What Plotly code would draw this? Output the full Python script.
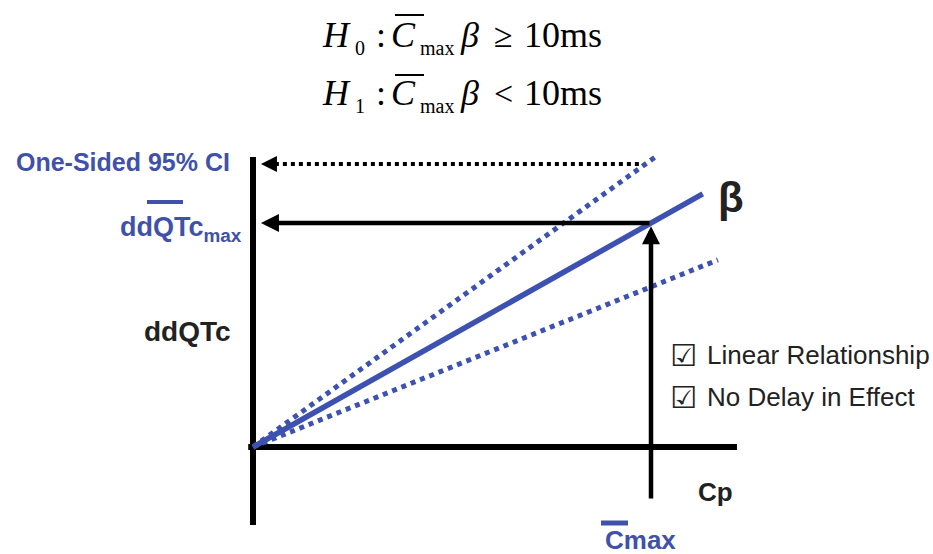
import plotly.graph_objects as go

W, H = 933, 554

# ---------------- data (conceptual units: Cmax = 1, ddQTc_max = 1) ----------------
c_max = 1.0
ddqtc_max = 1.0
ci_upper = 1.263
line_names = ["upper 95% CI", "beta", "lower 95% CI"]
slopes = [1.281, 1.0, 0.715]
line_end_cp = [1.018, 1.13, 1.168]
line_dash = ["dot", "solid", "dot"]
y_axis_extent = [-0.348, 1.295]
x_axis_extent = [-0.012, 1.216]
cmax_drop_bottom = -0.237
arrow_tip_x = 0.02

legend_items = ["Linear Relationship", "No Delay in Effect"]
hyp_labels = ["0", "1"]
hyp_ops = ["≥", "<"]

BLUE = "#3d52b0"
TBLUE = "#3f51a8"
BLACK = "#000000"
TXT = "#222222"

# ---------------- axis mapping (layout) ----------------
ox, oy = 253, 447
sx, sy = 398, 224
xr = [-ox / sx, (W - ox) / sx]
yr = [-(H - oy) / sy, oy / sy]

fig = go.Figure()

# axes lines
fig.add_trace(go.Scatter(x=[0, 0], y=y_axis_extent, mode="lines",
                         line=dict(color=BLACK, width=6), hoverinfo="skip"))
fig.add_trace(go.Scatter(x=x_axis_extent, y=[0, 0], mode="lines",
                         line=dict(color=BLACK, width=6), hoverinfo="skip"))

# regression lines
for name, s, xe, d in zip(line_names, slopes, line_end_cp, line_dash):
    fig.add_trace(go.Scatter(x=[0, xe], y=[0, s * xe], mode="lines", name=name,
                             line=dict(color=BLUE, width=5.5 if d == "solid" else 5, dash=d),
                             hoverinfo="skip"))

# dotted CI arrow line
fig.add_trace(go.Scatter(x=[arrow_tip_x + 0.035, 0.972 * c_max], y=[ci_upper, ci_upper],
                         mode="lines", line=dict(color=BLACK, width=4, dash="dot"),
                         hoverinfo="skip"))

ann = []
# arrows
ann.append(dict(x=arrow_tip_x, y=ci_upper, ax=arrow_tip_x + 0.04, ay=ci_upper,
                xref="x", yref="y", axref="x", ayref="y", text="", showarrow=True,
                arrowhead=2, arrowsize=0.8, arrowwidth=4, arrowcolor=BLACK, standoff=0))
ann.append(dict(x=arrow_tip_x, y=ddqtc_max, ax=c_max, ay=ddqtc_max,
                xref="x", yref="y", axref="x", ayref="y", text="", showarrow=True,
                arrowhead=2, arrowsize=0.8, arrowwidth=4.5, arrowcolor=BLACK, standoff=0))
ann.append(dict(x=c_max, y=ddqtc_max - 0.015, ax=c_max, ay=cmax_drop_bottom,
                xref="x", yref="y", axref="x", ayref="y", text="", showarrow=True,
                arrowhead=2, arrowsize=0.8, arrowwidth=4.5, arrowcolor=BLACK, standoff=0))


def px(x):
    return x / W


def py(y):
    return 1 - y / H


def label(text, x, y, size, color, xanchor="left", bold=False,
          family="Liberation Sans, Arial, DejaVu Sans", yanchor="middle"):
    t = f"<b>{text}</b>" if bold else text
    ann.append(dict(x=px(x), y=py(y), xref="paper", yref="paper", text=t, showarrow=False,
                    xanchor=xanchor, yanchor=yanchor,
                    font=dict(size=size, color=color, family=family)))


# hypotheses formula (pieces)
SERIF = "Liberation Serif, Times New Roman, DejaVu Serif"
for base, sub, op in zip([47, 105], hyp_labels, hyp_ops):
    pieces = [("<i>H</i>", 320, 0, 36), (sub, 353, 8, 20), (":", 374, 0, 36),
              ("<i>C</i>", 389, 0, 36), ("max", 418, 8, 20), ("<i>β</i>", 458, 0, 36),
              (op, 492, 0, 34), ("10ms", 522, 0, 36)]
    for t, x, dy, s in pieces:
        label(t, x, base + dy - 0.34 * s, s, BLACK, family=SERIF)

# left labels
label("One-Sided 95% CI", 232, 162, 25, TBLUE, xanchor="right", bold=True)
label("ddQTc<sub>max</sub>", 244, 229, 27, TBLUE, xanchor="right", bold=True)
label("ddQTc", 233, 331, 28, TXT, xanchor="right", bold=True)
label("β", 716, 198, 42, TXT, bold=True)
label("Cp", 696, 492, 26, TXT, bold=True)
label("Cmax", 603, 557, 26, TBLUE, bold=True, yanchor="bottom")
for i, t in enumerate(legend_items):
    yy = 355 + 42 * i
    label("☑", 668, yy, 30, TXT, bold=True, family="DejaVu Sans")
    label(t, 705, yy, 26, TXT, family="Liberation Sans, Arial, DejaVu Sans")

shapes = []
# overlines (text decoration)
for yy in [15, 75]:
    shapes.append(dict(type="line", xref="paper", yref="paper", x0=px(395), x1=px(424),
                       y0=py(yy), y1=py(yy), line=dict(color=BLACK, width=2)))
shapes.append(dict(type="line", xref="paper", yref="paper", x0=px(147), x1=px(183),
                   y0=py(202), y1=py(202), line=dict(color=TBLUE, width=4)))
shapes.append(dict(type="line", xref="paper", yref="paper", x0=px(601), x1=px(628),
                   y0=py(523), y1=py(523), line=dict(color=TBLUE, width=5)))

fig.update_layout(
    width=W, height=H, margin=dict(l=0, r=0, t=0, b=0),
    paper_bgcolor="white", plot_bgcolor="white", showlegend=False,
    xaxis=dict(range=xr, visible=False, fixedrange=True),
    yaxis=dict(range=yr, visible=False, fixedrange=True),
    annotations=ann, shapes=shapes,
)

fig.write_html("out.html")
